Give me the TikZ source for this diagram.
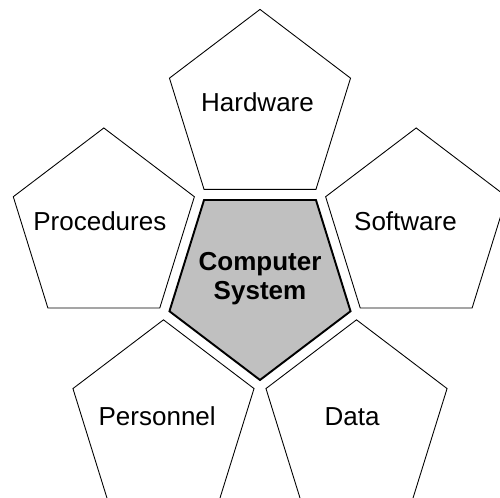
\documentclass[tikz,border=0pt]{standalone}
\usepackage{fontspec}
\setmainfont{Liberation Sans}
\usetikzlibrary{positioning}
\definecolor{coregray}{RGB}{192,192,192}
\tikzset{
  part/.style={draw=black, line width=0.5pt, fill=white, line join=miter},
  core/.style={draw=black, line width=1.1pt, fill=coregray, line join=miter},
  partlabel/.style={font=\fontsize{14.8}{17}\selectfont, anchor=base},
  corelabel/.style={font=\fontsize{14.8}{16.7}\selectfont\bfseries, align=center},
}
\begin{document}
\begin{tikzpicture}[x=0.02cm, y=0.0209cm]
\useasboundingbox (-260,-208.1) rectangle (240,268.4);
\clip (-260,-208.1) rectangle (240,268.4);
% five outer pentagons round the core
\foreach \a in {90,18,162,234,306}
  \draw[part, shift={(\a:164.2)}] (90:95.2) -- (162:95.2) -- (234:95.2)
    -- (306:95.2) -- (18:95.2) -- cycle;
% core pentagon, point down
\draw[core] (-90:95.2) -- (-18:95.2) -- (54:95.2) -- (126:95.2) -- (198:95.2) -- cycle;
\node[corelabel] (core) at (0,2.1) {Computer\\System};
\foreach \a/\dx/\dy/\nm/\lbl in {90/-2.5/-2.1/hardware/Hardware,
    162/-4/-3.3/procedures/Procedures, 18/-10.7/-3.3/software/Software,
    234/-6.3/-6.1/personnel/Personnel, 306/-4.5/-6.1/data/Data}
  \node[partlabel, shift={(\dx,\dy)}] (\nm) at (\a:164.2) {\lbl};
\end{tikzpicture}
\end{document}
